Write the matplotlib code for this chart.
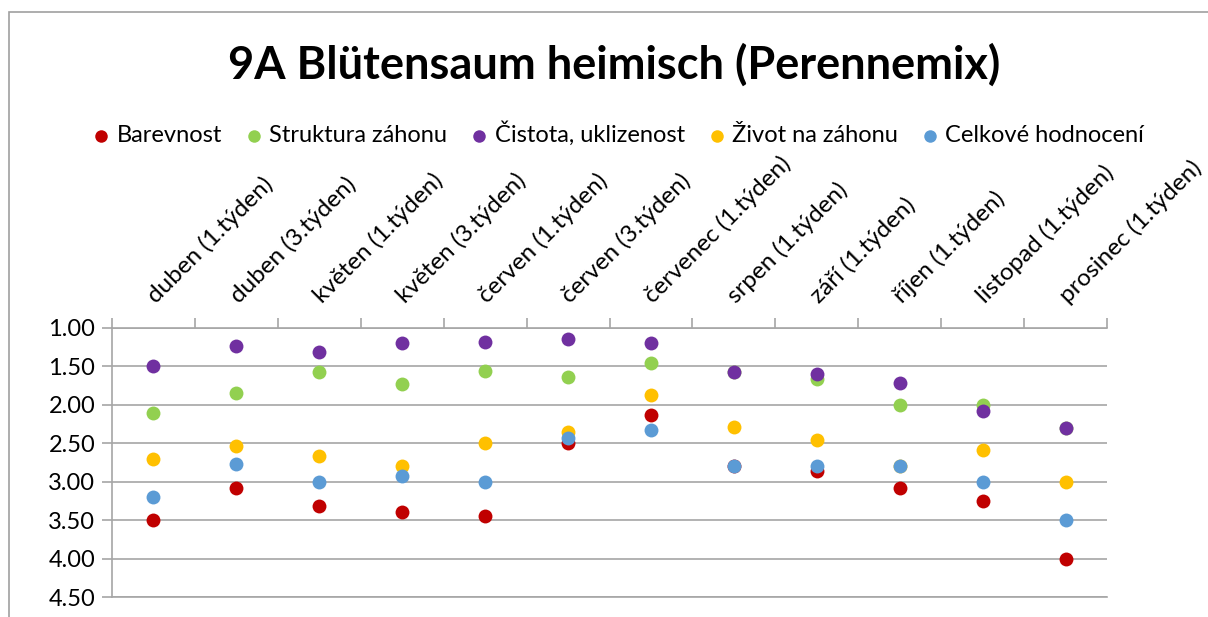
import matplotlib.pyplot as plt
from matplotlib.patches import Rectangle

plt.rcParams['font.family'] = ['Lato', 'DejaVu Sans']

categories = ['duben (1.týden)', 'duben (3.týden)', 'květen (1.týden)', 'květen (3.týden)',
              'červen (1.týden)', 'červen (3.týden)', 'červenec (1.týden)', 'srpen (1.týden)',
              'září (1.týden)', 'říjen (1.týden)', 'listopad (1.týden)', 'prosinec (1.týden)']

barevnost = [3.5, 3.08, 3.31, 3.4, 3.44, 2.5, 2.13, 2.79, 2.86, 3.08, 3.25, 4.0]
struktura = [2.11, 1.85, 1.57, 1.73, 1.56, 1.64, 1.46, 1.57, 1.67, 2.0, 2.0, 2.3]
cistota = [1.5, 1.23, 1.31, 1.19, 1.18, 1.14, 1.19, 1.57, 1.6, 1.71, 2.08, 2.3]
zivot = [2.7, 2.54, 2.67, 2.8, 2.5, 2.35, 1.87, 2.29, 2.46, 2.79, 2.59, 3.0]
celkove = [3.2, 2.77, 3.0, 2.93, 3.0, 2.43, 2.33, 2.79, 2.8, 2.79, 3.0, 3.5]

series = [
    ('Barevnost', barevnost, '#c00000'),
    ('Struktura záhonu', struktura, '#92d050'),
    ('Čistota, uklizenost', cistota, '#7030a0'),
    ('Život na záhonu', zivot, '#ffc000'),
    ('Celkové hodnocení', celkove, '#5b9bd5'),
]

fig = plt.figure(figsize=(12.08, 6.17), dpi=100)
ax = fig.add_axes([112 / 1208, 20 / 617, 995 / 1208, 269 / 617])

# chart border (cut off at right/bottom like the screenshot)
fig.patches.append(Rectangle((9 / 1208, -0.1), 1.2, 0.1 + (617 - 12) / 617,
                             transform=fig.transFigure, fill=False,
                             edgecolor='#a0a0a0', linewidth=1.2))

x = list(range(len(categories)))
for name, vals, col in series:
    ax.scatter(x, vals, s=100, color=col, label=name, zorder=3, linewidths=0)

ax.set_xlim(-0.5, len(categories) - 0.5)
ax.set_ylim(4.5, 1.0)
yt = [1.0, 1.5, 2.0, 2.5, 3.0, 3.5, 4.0, 4.5]
ax.set_yticks(yt)
ax.set_yticklabels([f'{v:.2f}' for v in yt])
ax.yaxis.grid(True, color='#a6a6a6', linewidth=1.2)
ax.set_axisbelow(True)

ax.spines['right'].set_visible(False)
for s in ['left', 'top', 'bottom']:
    ax.spines[s].set_color('#a6a6a6')
    ax.spines[s].set_linewidth(1.2)

ax.xaxis.tick_top()
ax.set_xticks([i - 0.5 for i in range(len(categories) + 1)])
ax.set_xticklabels([])
ax.tick_params(axis='x', length=7, color='#a6a6a6', width=1.2)
ax.tick_params(axis='y', length=7, color='#a6a6a6', width=1.2, labelsize=17, pad=5)

for i, c in enumerate(categories):
    ax.text(i + 0.03, 0.69, c, rotation=45, rotation_mode='anchor',
            ha='left', va='baseline', fontsize=17.5, clip_on=False)

fig.text(0.508, 1 - 65 / 617, '9A Blütensaum heimisch (Perennemix)', ha='center', va='center',
         fontsize=32.5, fontweight='bold')

fig.legend(loc='center', bbox_to_anchor=(0.512, 1 - 134 / 617), ncol=5, frameon=False,
           fontsize=17, handlelength=0.7, handletextpad=0.3, columnspacing=1.0,
           markerscale=0.9, borderaxespad=0)

fig.savefig('out.png', dpi=100)
